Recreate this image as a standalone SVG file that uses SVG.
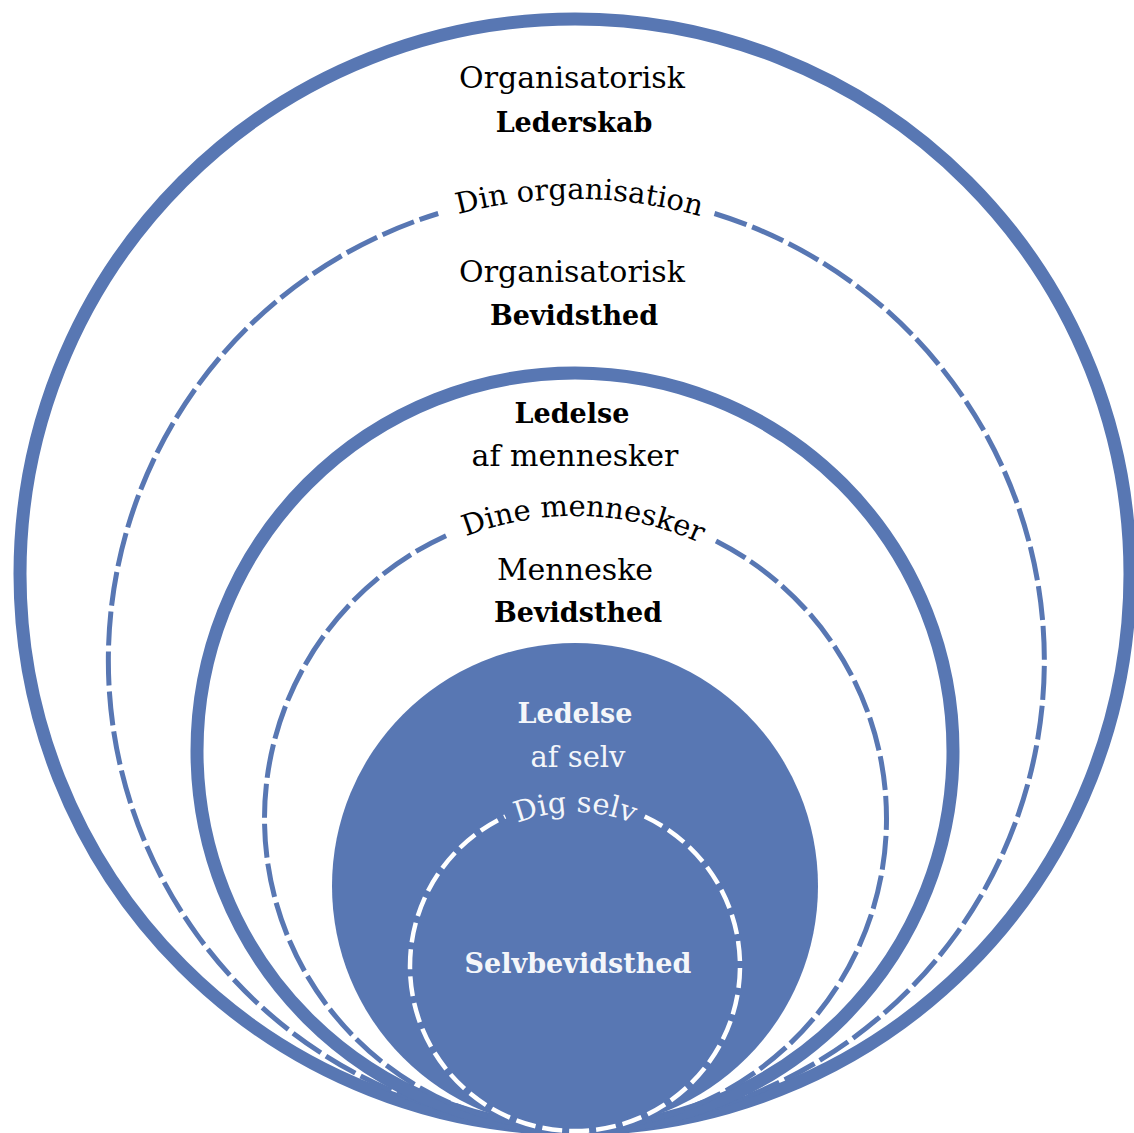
<svg xmlns="http://www.w3.org/2000/svg" width="1134" height="1133" viewBox="0 0 1134 1133">
  <style>
    .ring { fill: none; stroke: #5877b3; stroke-width: 13; }
    .dash { fill: none; stroke: #5877b3; stroke-width: 5; stroke-dasharray: 34 6; }
    .wdash { fill: none; stroke: #ffffff; stroke-width: 4.5; stroke-dasharray: 20 7; }
    .core { fill: #5877b3; }
    text { font-family: "DejaVu Serif", "Liberation Serif", serif; text-anchor: middle; }
    .reg { font-size: 30px; fill: #000000; }
    .arc { font-size: 29px; fill: #000000; }
    .bold { font-size: 27px; font-weight: bold; fill: #000000; }
    .wreg { font-size: 29px; fill: #f4f6fa; }
    .wbold { font-size: 27px; font-weight: bold; fill: #f4f6fa; }
  </style>
  <defs>
    <!-- baselines for the curved labels, running left to right over the top -->
    <path id="arcOrg" d="M 113 661 A 462 462 0 0 1 1037 661"/>
    <path id="arcPeople" d="M 273 818 A 302 302 0 0 1 877 818"/>
    <path id="arcSelf" d="M 421 966 A 154 154 0 0 1 729 966"/>
  </defs>

  <!-- outer ring: organisational leadership -->
  <g id="ring-organisation">
    <circle class="ring" cx="575" cy="574" r="555"/>
    <text class="reg" x="572" y="88">Organisatorisk</text>
    <text class="bold" x="574" y="132">Lederskab</text>
  </g>

  <!-- dashed ring: your organisation -->
  <g id="ring-din-organisation">
    <path class="dash" d="M 714.5 213.5 A 468 468 0 1 1 438.2 213.5"/>
    <text class="arc"><textPath href="#arcOrg" startOffset="50.3%">Din organisation</textPath></text>
    <text class="reg" x="572" y="282">Organisatorisk</text>
    <text class="bold" x="574" y="325">Bevidsthed</text>
  </g>

  <!-- middle ring: leading people -->
  <g id="ring-mennesker">
    <circle class="ring" cx="575" cy="751" r="378"/>
    <text class="bold" x="572" y="423">Ledelse</text>
    <text class="reg" x="575" y="466">af mennesker</text>
  </g>

  <!-- dashed ring: your people -->
  <g id="ring-dine-mennesker">
    <path class="dash" d="M 716 541 A 311 311 0 1 1 450 533.9"/>
    <text class="arc"><textPath href="#arcPeople" startOffset="50.9%">Dine mennesker</textPath></text>
    <text class="reg" x="575" y="580">Menneske</text>
    <text class="bold" x="578" y="622">Bevidsthed</text>
  </g>

  <!-- filled core: leading yourself -->
  <g id="core-selv">
    <circle class="core" cx="575" cy="886" r="243"/>
    <text class="wbold" x="575" y="723">Ledelse</text>
    <text class="wreg" x="578" y="767">af selv</text>
  </g>

  <!-- inner white dashed ring: yourself -->
  <g id="ring-dig-selv">
    <path class="wdash" d="M 644.7 816.5 A 165 165 0 1 1 505.3 816.5"/>
    <text class="wreg"><textPath href="#arcSelf" startOffset="50%">Dig selv</textPath></text>
    <text class="wbold" x="578" y="973">Selvbevidsthed</text>
  </g>
</svg>
